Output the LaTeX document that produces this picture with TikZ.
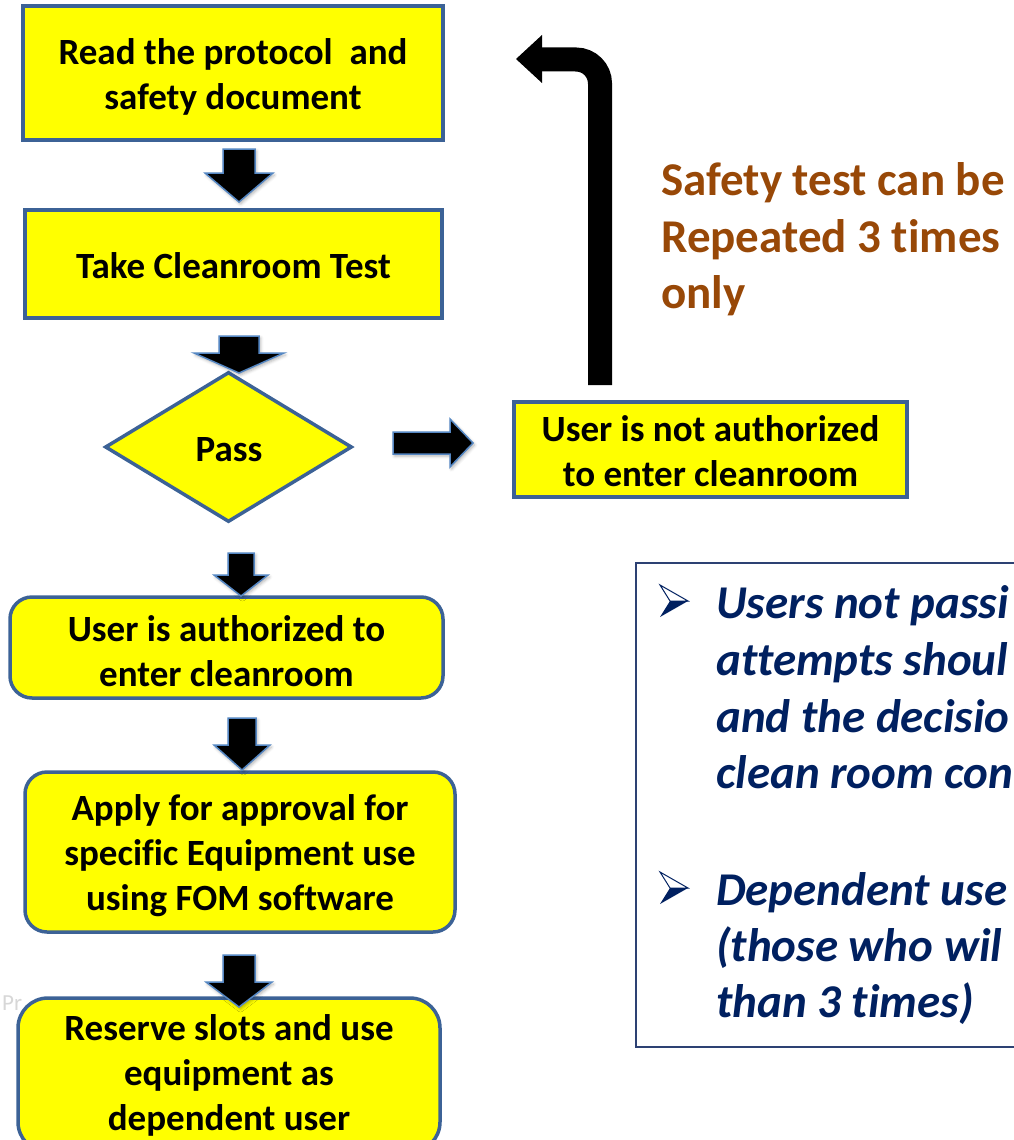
\documentclass[tikz,border=0pt]{standalone}
\usepackage{fontspec}
\setmainfont{Carlito}[Ligatures={NoCommon}]
\usetikzlibrary{shapes.geometric,shadows.blur}
\definecolor{boxfill}{RGB}{255,255,0}
\definecolor{boxborder}{RGB}{60,98,150}
\definecolor{arrowedge}{RGB}{85,135,195}
\definecolor{brownt}{RGB}{152,72,7}
\definecolor{navyt}{RGB}{0,32,96}
\definecolor{panelborder}{RGB}{45,65,115}
\definecolor{wmark}{RGB}{215,215,215}
\tikzset{
  flowbox/.style={draw=boxborder, line width=3.5pt, fill=boxfill, inner sep=0pt},
  roundbox/.style={flowbox, rounded corners=22pt},
  boxtext/.style={align=center, inner sep=0pt, font=\fontsize{37}{45}\selectfont\bfseries},
  blockarrow/.style={fill=black, draw=arrowedge, line width=1.5pt, line join=miter,
    blur shadow={shadow xshift=1.5pt, shadow yshift=-2pt, shadow blur radius=3pt, shadow opacity=30}},
  bentarrow/.style={draw=black, line width=24pt, rounded corners=24pt},
  safetytext/.style={anchor=base west, inner sep=0pt, text=brownt,
    font=\fontsize{47}{57}\selectfont\bfseries},
  notetext/.style={anchor=base west, inner sep=0pt, text=navyt,
    font=\fontsize{47}{57}\selectfont\bfseries\itshape},
}
\newcommand\dnarr[6]{\filldraw[blockarrow] ({#1-#5},#2) -- ({#1+#5},#2) -- ({#1+#5},#3) -- ({#1+#6},#3) -- (#1,#4) -- ({#1-#6},#3) -- ({#1-#5},#3) -- cycle;}
\newcommand\bulletarrow[2]{%
  \fill[navyt] ({#1},{#2+16}) -- ({#1+28},#2) -- ({#1+10},#2) -- cycle;
  \draw[navyt, line width=1pt, line join=miter] ({#1},{#2-16}) -- ({#1+28},#2) -- ({#1+10},#2) -- cycle;}
\begin{document}
\begin{tikzpicture}[x=1pt,y=-1pt]
\useasboundingbox (0,0) rectangle (1014,1140);
\clip (0,0) rectangle (1014,1140);

% watermark (mostly hidden)
\node[anchor=base west, inner sep=0pt, text=wmark, font=\fontsize{23}{28}\selectfont] (wm) at (2,1010) {Pr};

% main boxes
\node[flowbox, minimum width=420pt, minimum height=134pt] (read) at (233,73) {};
\node[boxtext] (readtxt) at (233,77) {Read the protocol\ \ and\\safety document};
\node[flowbox, minimum width=417pt, minimum height=108pt] (test) at (233.5,264) {};
\node[boxtext] (testtxt) at (233.5,266) {Take Cleanroom Test};
\node[diamond, aspect=1.65, draw=boxborder, line width=3.5pt, fill=boxfill, inner sep=0pt,
  minimum width=247pt, minimum height=150pt] (pass) at (228.5,447) {};
\node[boxtext] (passtxt) at (229,450) {Pass};
\node[flowbox, minimum width=393pt, minimum height=95pt] (notauth) at (710.5,449.5) {};
\node[boxtext] (notauthtxt) at (710.5,451) {User is not authorized\\to enter cleanroom};
\node[roundbox, minimum width=433pt, minimum height=101pt] (auth) at (226.5,647.5) {};
\node[boxtext] (authtxt) at (226.5,651) {User is authorized to\\enter cleanroom};
\node[roundbox, minimum width=430pt, minimum height=160pt] (apply) at (240,852) {};
\node[boxtext] (applytxt) at (240,856) {Apply for approval for\\specific Equipment use\\using FOM software};
\node[roundbox, rounded corners=30pt, minimum width=422pt, minimum height=154pt] (reserve) at (229,1075) {};
\node[boxtext] (reservetxt) at (229,1075) {Reserve slots and use\\equipment as\\dependent user};

% block arrows
\dnarr{239}{149}{173}{202}{16}{34}
\dnarr{239}{336}{353}{373}{20}{45}
\dnarr{241}{553}{575}{596}{13}{27}
\dnarr{242}{718}{745}{770}{14}{28}
\dnarr{239}{955}{982}{1007}{16}{33}
\filldraw[blockarrow] (393,432) -- (450,432) -- (450,419) -- (473,443) -- (450,467) -- (450,454) -- (393,454) -- cycle;

% bent return arrow
\coordinate (loopstart) at (600,385);
\coordinate (loopcorner) at (600,59.5);
\coordinate (loopend) at (541,59.5);
\coordinate (looptip) at (516,59);
\draw[bentarrow] (loopstart) -- (loopcorner) -- (loopend);
\fill[black] (542,35) -- (looptip) -- (542,83) -- cycle;

% safety note
\node[safetytext] (s1) at (661,195) {Safety test can be};
\node[safetytext] (s2) at (661,252) {Repeated 3 times};
\node[safetytext] (s3) at (661,308) {only};

% right panel
\draw[panelborder, line width=1.5pt] (636,563) rectangle (1030,1047);
\bulletarrow{660}{601}
\bulletarrow{660}{888}
\node[notetext] (n1) at (716,618) {Users not passi};
\node[notetext] (n2) at (716,675) {attempts shoul};
\node[notetext] (n3) at (716,732) {and the decisio};
\node[notetext] (n4) at (716,788) {clean room con};
\node[notetext] (n5) at (716,905) {Dependent use};
\node[notetext] (n6) at (716,961) {(those who wil};
\node[notetext] (n7) at (716,1017) {than 3 times)};
\end{tikzpicture}
\end{document}
